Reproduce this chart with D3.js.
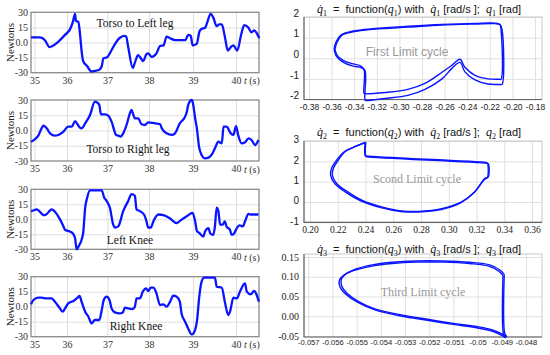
<!DOCTYPE html>
<html>
<head>
<meta charset="utf-8">
<script src="https://cdn.jsdelivr.net/npm/d3@7"></script>
<style>
  body { margin: 0; background: #fff; }
  svg { display: block; }
</style>
</head>
<body>
<svg id="chart" width="550" height="355"></svg>
<script>
const svg = d3.select("#chart");

// ---- left column: joint forces over time, [t (s), Newtons] ----
const timeTicks = [35, 36, 37, 38, 39, 40];
const timeLabels = ["35", "36", "37", "38", "39", "40"];
const forceTicks = [30, 15, 0, -15, -30];
const forceLabels = ["30", "15", "0.0", "-15", "-30"];

const torsoLeft = [
  [34.90, 5], [35.17, 5], [35.33, 2], [35.46, -4.5], [35.58, -3], [35.73, 0.7], [35.94, 7.6],
  [36.07, 12.8], [36.14, 19.8], [36.20, 28.5], [36.22, 21.5], [36.28, 20.5], [36.32, 9.4],
  [36.36, -8], [36.40, -18.4], [36.50, -23.6], [36.61, -28.8], [36.69, -28.1], [36.80, -27],
  [36.86, -23.6], [36.90, -15.6], [36.98, -14.9], [37.14, -4.5], [37.26, 3.1], [37.32, 5.2],
  [37.40, 6.6], [37.45, 5.9], [37.50, -4.5], [37.61, -25.3], [37.66, -20], [37.74, -12.5],
  [37.82, -16.7], [37.86, -18.4], [37.94, -11.5], [37.98, -10.8], [38.06, -14.2], [38.17, -10.8],
  [38.25, -3.5], [38.33, -2.8], [38.40, 5.9], [38.48, 4.2], [38.59, 2.4], [38.74, 2.4],
  [38.83, 2.4], [38.89, 7.6], [38.95, 6.6], [38.99, -2.8], [39.09, -1], [39.15, 11],
  [39.20, 13.5], [39.28, 14.6], [39.33, 19.8], [39.41, 28.5], [39.47, 25], [39.55, 16.3],
  [39.61, 18], [39.67, 18], [39.74, 5.9], [39.81, -8], [39.88, -4.5], [39.94, -2.8],
  [40.03, -8], [40.11, 5.9], [40.19, 17.3], [40.29, 14.6], [40.36, 10], [40.42, 12.1],
  [40.48, 9.4], [40.54, 4.2]
];

const torsoRight = [
  [34.90, -11], [35.02, -8.4], [35.12, -5], [35.22, 2.1], [35.28, 4.8], [35.38, 2.1],
  [35.48, -2.8], [35.63, -5], [35.73, -4.4], [35.89, -1.1], [36.03, 3.8], [36.12, 3.8],
  [36.20, 9.3], [36.26, 6.1], [36.32, 2.8], [36.36, 2.1], [36.45, 7], [36.57, 15.3],
  [36.69, 28.4], [36.74, 27.7], [36.80, 25], [36.84, 15.9], [36.94, 15.9], [37.02, 14.6],
  [37.10, 8.7], [37.21, -4.4], [37.26, -5], [37.32, -6], [37.38, -2.8], [37.46, 5.4],
  [37.54, 16.9], [37.58, 20.2], [37.62, 15.9], [37.66, 12], [37.74, 12], [37.82, 6.1],
  [37.90, 5.4], [37.98, 8], [38.14, 7], [38.25, 6.4], [38.29, 2.1], [38.40, -2.8],
  [38.52, -4.4], [38.59, -2.8], [38.70, 7], [38.82, 13.6], [38.86, 18.5], [38.89, 25],
  [38.97, 30], [38.99, 28.4], [39.05, 12], [39.09, 2.1], [39.14, -15.9], [39.20, -24],
  [39.28, -27.4], [39.36, -26.7], [39.43, -24], [39.51, -17.5], [39.59, -11], [39.67, -12.6],
  [39.71, 3.8], [39.78, 3.8], [39.88, -2.8], [39.94, -4.4], [40.00, 4.4], [40.05, -4.4],
  [40.13, -12.6], [40.21, -11.6], [40.29, -7.7], [40.36, -9.3], [40.44, -14.3], [40.52, -9.3]
];

const leftKnee = [
  [34.90, 8.2], [34.97, 8.8], [35.07, 9.9], [35.17, 7.5], [35.28, 4.1], [35.36, 4.8],
  [35.48, 8.8], [35.53, 9.9], [35.63, 7.5], [35.79, -0.3], [35.89, -7.1], [35.94, -10.5],
  [36.07, -12.2], [36.14, -13.9], [36.20, -19], [36.24, -30], [36.28, -27.5], [36.36, -20.7],
  [36.40, -13.9], [36.45, 11.6], [36.50, 21.8], [36.57, 29], [36.86, 29], [36.92, 21.8],
  [36.98, 18.4], [37.06, 11.6], [37.14, -5.4], [37.18, -8.2], [37.26, -7.1], [37.38, 8.2],
  [37.50, 18.4], [37.58, 25.2], [37.66, 23.5], [37.70, 9.9], [37.78, 8.2], [37.88, 4.8],
  [37.94, -2], [37.98, -8.2], [38.04, -8.2], [38.10, -2], [38.21, 4.8], [38.33, 4.1],
  [38.48, 0.7], [38.63, -3.7], [38.74, -0.3], [38.86, 3.1], [38.99, 6.5], [39.05, -2],
  [39.09, -11.6], [39.15, -13.9], [39.24, -17.3], [39.28, -12.2], [39.36, -8.8], [39.40, -13.9],
  [39.47, -15.6], [39.51, -7.1], [39.55, 11.6], [39.59, 8.2], [39.63, -5.4], [39.69, -5.4],
  [39.74, -2], [39.78, -7.1], [39.86, -10.5], [39.90, -15.6], [39.96, -13.9], [40.02, -8.8],
  [40.08, -6.1], [40.16, -7.1], [40.21, -2], [40.29, 5.4], [40.34, 4.8], [40.52, 4.8]
];

const rightKnee = [
  [34.90, 2.3], [34.97, 6.7], [35.12, 9], [35.22, 9], [35.38, 8.3], [35.53, 8.3],
  [35.63, 5], [35.77, -1], [35.87, -5], [35.94, -1.7], [36.03, 3.3], [36.16, 5.7],
  [36.24, 8.3], [36.31, 10.7], [36.36, 5], [36.45, -5], [36.53, -10], [36.61, -16.7],
  [36.69, -13.3], [36.80, -13.3], [36.86, -3.3], [36.91, 6.7], [36.98, 10], [37.05, 6.7],
  [37.10, -1.7], [37.18, -5.7], [37.29, -6.7], [37.37, -5.7], [37.42, -1], [37.50, -1.7],
  [37.61, -2.3], [37.66, 0], [37.70, 8.3], [37.78, 8.3], [37.85, 15], [37.93, 18.3],
  [37.98, 15.7], [38.04, 19], [38.10, 19], [38.17, 13.3], [38.25, 1.7], [38.33, 2.3],
  [38.40, 0], [38.48, 5], [38.55, 11], [38.63, 10], [38.70, 5], [38.74, -6.7],
  [38.82, -15], [38.89, -21.7], [38.97, -27.7], [39.01, -26.7], [39.09, -15], [39.15, 11.7],
  [39.20, 25], [39.26, 29], [39.51, 29], [39.55, 20], [39.67, 19], [39.74, 5],
  [39.82, -8.3], [39.86, -5], [39.94, 9], [40.02, 8.3], [40.09, 15], [40.21, 23.3],
  [40.25, 15], [40.34, 12.3], [40.42, 15.7], [40.48, 11.7], [40.53, 5]
];

// ---- right column: limit cycles, [q (rad), q-dot (rad/s)], two laps each ----
const cycle1 = [
  [[-0.3570, 0.44], [-0.3552, 0.78], [-0.3508, 1.12], [-0.3419, 1.27], [-0.3216, 1.41],
   [-0.2924, 1.51], [-0.2623, 1.61], [-0.2331, 1.66], [-0.2154, 1.68], [-0.2110, 1.62],
   [-0.2101, 1.40], [-0.2101, -1.02], [-0.2120, -1.02], [-0.2216, -1.0], [-0.2331, -0.83],
   [-0.2420, -0.44], [-0.2464, -0.05], [-0.2535, -0.34], [-0.2623, -0.68], [-0.2774, -1.22],
   [-0.2924, -1.51], [-0.3127, -1.66], [-0.3304, -1.72], [-0.3313, -1.70], [-0.3313, -0.55],
   [-0.3349, -0.36], [-0.3419, -0.26], [-0.3499, -0.10], [-0.3552, 0.15], [-0.3570, 0.44]],
  [[-0.3578, 0.44], [-0.3560, 0.80], [-0.3515, 1.14], [-0.3419, 1.31], [-0.3216, 1.44],
   [-0.2924, 1.55], [-0.2623, 1.64], [-0.2331, 1.69], [-0.2154, 1.70], [-0.2110, 1.64],
   [-0.2092, 1.40], [-0.2092, -1.27], [-0.2110, -1.27], [-0.2216, -1.25], [-0.2331, -1.05],
   [-0.2420, -0.66], [-0.2464, -0.20], [-0.2535, -0.49], [-0.2623, -1.00], [-0.2774, -1.51],
   [-0.2924, -1.80], [-0.3127, -1.95], [-0.3295, -2.05], [-0.3304, -2.03], [-0.3304, -0.60],
   [-0.3340, -0.45], [-0.3410, -0.38], [-0.3495, -0.20], [-0.3560, 0.12], [-0.3578, 0.44]]
];

const cycle2 = [
  [[0.2402, 2.94], [0.2402, 2.24], [0.2412, 2.22], [0.3275, 1.90], [0.3285, 1.88],
   [0.3285, 1.24], [0.3261, 1.16], [0.3189, 0.50], [0.3093, 0.0], [0.2949, -0.33],
   [0.2781, -0.46], [0.2661, -0.44], [0.2517, -0.24], [0.2373, 0.09], [0.2264, 0.53],
   [0.2192, 0.91], [0.2161, 1.32], [0.2168, 1.65], [0.2204, 2.06], [0.2252, 2.47],
   [0.2324, 2.72], [0.2395, 2.92], [0.2402, 2.94]],
  [[0.2396, 2.91], [0.2398, 2.28], [0.2408, 2.26], [0.3268, 1.94], [0.3278, 1.92],
   [0.3278, 1.20], [0.3255, 1.10], [0.3180, 0.45], [0.3085, -0.04], [0.2945, -0.37],
   [0.2781, -0.49], [0.2655, -0.47], [0.2510, -0.28], [0.2365, 0.06], [0.2253, 0.50],
   [0.2180, 0.90], [0.2148, 1.32], [0.2155, 1.65], [0.2192, 2.06], [0.2242, 2.45],
   [0.2318, 2.71], [0.2390, 2.90], [0.2396, 2.91]]
];

const cycle3 = [
  [[-0.04890, 0.106], [-0.04908, 0.117], [-0.04950, 0.130], [-0.05033, 0.1366], [-0.05144, 0.140],
   [-0.05255, 0.140], [-0.05353, 0.1366], [-0.05436, 0.130], [-0.05505, 0.119], [-0.05547, 0.106],
   [-0.05564, 0.092], [-0.05561, 0.075], [-0.05540, 0.058], [-0.05492, 0.037], [-0.05422, 0.018],
   [-0.05311, 0.003], [-0.05214, -0.007], [-0.05102, -0.018], [-0.05005, -0.026], [-0.04936, -0.035],
   [-0.04894, -0.047], [-0.04880, -0.052], [-0.04888, -0.043], [-0.04890, 0.106]],
  [[-0.04895, 0.103], [-0.04912, 0.114], [-0.04955, 0.127], [-0.05033, 0.1335], [-0.05144, 0.137],
   [-0.05255, 0.137], [-0.05353, 0.1335], [-0.05436, 0.127], [-0.05510, 0.116], [-0.05553, 0.104],
   [-0.05572, 0.090], [-0.05568, 0.073], [-0.05545, 0.056], [-0.05495, 0.035], [-0.05422, 0.0155],
   [-0.05311, 0.0], [-0.05214, -0.0095], [-0.05102, -0.0205], [-0.05005, -0.029], [-0.04938, -0.038],
   [-0.04898, -0.049], [-0.04885, -0.054], [-0.04893, -0.045], [-0.04895, 0.103]]
];

const q1Ticks = [-0.38, -0.36, -0.34, -0.32, -0.30, -0.28, -0.26, -0.24, -0.22, -0.20, -0.18];
const q1Labels = ["-0.38", "-0.36", "-0.34", "-0.32", "-0.30", "-0.28", "-0.26", "-0.24", "-0.22", "-0.20", "-0.18"];
const dq1Ticks = [2, 1, 0, -1, -2];
const dq1Labels = ["2", "1", "0", "-1", "-2"];
const q2Ticks = [0.20, 0.22, 0.24, 0.26, 0.28, 0.30, 0.32, 0.34, 0.36];
const q2Labels = ["0.20", "0.22", "0.24", "0.26", "0.28", "0.30", "0.32", "0.34", "0.36"];
const dq2Ticks = [3, 2, 1, 0, -1];
const dq2Labels = ["3", "2", "1", "0", "-1"];
const q3Ticks = [-0.057, -0.056, -0.055, -0.054, -0.053, -0.052, -0.051, -0.050, -0.049, -0.048];
const q3Labels = ["-0.057", "-0.056", "-0.055", "-0.054", "-0.053", "-0.052", "-0.051", "-0.05", "-0.049", "-0.048"];
const dq3Ticks = [0.15, 0.10, 0.05, 0.00, -0.05];
const dq3Labels = ["0.15", "0.10", "0.05", "0.00", "-0.05"];

const SERIF = "'Liberation Serif', 'Times New Roman', serif";
const SANS = "'Liberation Sans', Arial, sans-serif";
const BLUE = "#0a14ff";

// ---------- left column ----------
const leftPanels = [
  { title: "Torso to Left leg", data: torsoLeft, top: 12.3, bottom: 72.7, tx: 135, ty: 27 },
  { title: "Torso to Right leg", data: torsoRight, top: 100, bottom: 161, tx: 128, ty: 153 },
  { title: "Left Knee", data: leftKnee, top: 189.3, bottom: 249.3, tx: 130, ty: 244 },
  { title: "Right Knee", data: rightKnee, top: 276.7, bottom: 336.7, tx: 136, ty: 330 }
];

// the reference's time axis is not evenly spaced, so follow its label positions
const x = d3.scaleLinear()
  .domain([34.9, 35, 36, 37, 38, 39, 40, 40.54])
  .range([31, 34.4, 67, 107.4, 149, 193, 236, 259.3]);

leftPanels.forEach(p => {
  const y = d3.scaleLinear().domain([-30, 30]).range([p.bottom, p.top]);
  const g = svg.append("g");
  const h = p.bottom - p.top;

  const xa = g.append("g").attr("transform", `translate(0,${p.bottom})`)
    .call(d3.axisBottom(x).tickValues(timeTicks).tickFormat((d, i) => timeLabels[i])
      .tickSize(-h).tickPadding(4));
  const ya = g.append("g").attr("transform", `translate(31,0)`)
    .call(d3.axisLeft(y).tickValues(forceTicks).tickFormat((d, i) => forceLabels[i])
      .tickSize(-228).tickPadding(3));
  [xa, ya].forEach(a => {
    a.select(".domain").remove();
    a.selectAll("line").attr("stroke", "#dedede");
    a.selectAll("text").attr("font-family", SERIF).attr("font-size", 10).attr("fill", "#333");
  });
  ya.selectAll(".tick").filter(d => Math.abs(d) === 30).select("line").remove();

  g.append("text")
    .attr("x", 244).attr("y", p.bottom + 11.5)
    .attr("font-family", SERIF).attr("font-size", 10).attr("fill", "#333")
    .html("<tspan font-style='italic'>t</tspan> (s)");

  g.append("rect")
    .attr("x", 31).attr("y", p.top).attr("width", 228).attr("height", h)
    .attr("fill", "none").attr("stroke", "#8a8a8a").attr("stroke-width", 1.3);

  g.append("path")
    .datum(p.data)
    .attr("fill", "none").attr("stroke", BLUE).attr("stroke-width", 2.3)
    .attr("stroke-linejoin", "round")
    .attr("d", d3.line().x(d => x(d[0])).y(d => y(d[1])).curve(d3.curveMonotoneX));

  g.append("text")
    .attr("x", p.tx).attr("y", p.ty).attr("text-anchor", "middle")
    .attr("font-family", SERIF).attr("font-size", 11.5).attr("fill", "#111")
    .text(p.title);

  g.append("text")
    .attr("transform", `translate(14,${(p.top + p.bottom) / 2}) rotate(-90)`)
    .attr("text-anchor", "middle")
    .attr("font-family", SERIF).attr("font-size", 11).attr("fill", "#222")
    .text("Newtons");
});

// ---------- right column ----------
const rightPanels = [
  { n: "1", laps: cycle1, box: [304, 17, 542, 99.5],
    xDom: [-0.38, -0.18], xRng: [309, 535], yDom: [-2, 2], yRng: [99.5, 17],
    xt: q1Ticks, xl: q1Labels, yt: dq1Ticks, yl: dq1Labels,
    xFont: SANS, xSize: 8.5, yFont: SANS, ySize: 10, yShift: -4, xPad: 4,
    note: "First Limit cycle", noteFont: SANS, nx: 407, ny: 56, titleY: 13 },
  { n: "2", laps: cycle2, box: [304, 141, 542, 222.3],
    xDom: [0.20, 0.36], xRng: [310, 532], yDom: [-1, 3], yRng: [222.3, 141],
    xt: q2Ticks, xl: q2Labels, yt: dq2Ticks, yl: dq2Labels,
    xFont: SERIF, xSize: 9.5, yFont: SANS, ySize: 10, yShift: -1.5, xPad: 4,
    note: "Scond Limit cycle", noteFont: SERIF, nx: 417, ny: 183, titleY: 136 },
  { n: "3", laps: cycle3, box: [304, 254, 542, 337],
    xDom: [-0.057, -0.048], xRng: [308.3, 526], yDom: [-0.05, 0.15], yRng: [336, 257],
    xt: q3Ticks, xl: q3Labels, yt: dq3Ticks, yl: dq3Labels,
    xFont: SANS, xSize: 7.6, yFont: SERIF, ySize: 10, yShift: 0, xPad: 3,
    note: "Third Limit cycle", noteFont: SERIF, nx: 423, ny: 296, titleY: 253 }
];

rightPanels.forEach(p => {
  const [x0, y0, x1, y1] = p.box;
  const qx = d3.scaleLinear().domain(p.xDom).range(p.xRng);
  const qy = d3.scaleLinear().domain(p.yDom).range(p.yRng);
  const g = svg.append("g");

  const xa = g.append("g").attr("transform", `translate(0,${y1})`)
    .call(d3.axisBottom(qx).tickValues(p.xt).tickFormat((d, i) => p.xl[i])
      .tickSize(-(y1 - y0)).tickPadding(p.xPad));
  const ya = g.append("g").attr("transform", `translate(${x0},0)`)
    .call(d3.axisLeft(qy).tickValues(p.yt).tickFormat((d, i) => p.yl[i])
      .tickSize(-(x1 - x0)).tickPadding(5));
  xa.select(".domain").remove();
  ya.select(".domain").remove();
  xa.selectAll("line").attr("stroke", "#e0e0e0");
  ya.selectAll("line").attr("stroke", "#e0e0e0");
  xa.selectAll("text").attr("font-family", p.xFont).attr("font-size", p.xSize).attr("fill", "#222");
  ya.selectAll("text").attr("font-family", p.yFont).attr("font-size", p.ySize).attr("fill", "#222")
    .attr("transform", `translate(0,${p.yShift})`);

  g.append("rect").attr("x", x0).attr("y", y0).attr("width", x1 - x0).attr("height", y1 - y0)
    .attr("fill", "none").attr("stroke", "#c8c8c8");
  g.append("path").attr("d", `M${x0},${y0}V${y1}H${x1}`)
    .attr("fill", "none").attr("stroke", "#666").attr("stroke-width", 1.2);

  g.append("text").attr("x", p.nx).attr("y", p.ny).attr("text-anchor", "middle")
    .attr("font-family", p.noteFont).attr("font-size", 12).attr("fill", "#9a9a9a")
    .text(p.note);

  const line = d3.line().x(d => qx(d[0])).y(d => qy(d[1])).curve(d3.curveCatmullRom.alpha(0.5));
  g.selectAll("path.lap").data(p.laps).join("path").attr("class", "lap")
    .attr("fill", "none").attr("stroke", BLUE).attr("stroke-width", 1.4)
    .attr("stroke-linejoin", "round")
    .attr("d", line);

  // title: q-dot_n = function(q_n) with q-dot_n [rad/s ];  q_n [rad]
  const t = g.append("text").attr("x", 419).attr("y", p.titleY).attr("text-anchor", "middle")
    .attr("font-family", SANS).attr("font-size", 11).attr("fill", "#111");
  const q = (dot) => {
    t.append("tspan").attr("font-family", SERIF).attr("font-style", "italic").attr("font-size", 12)
      .text(dot ? "q\u0307" : "q");
    t.append("tspan").attr("font-family", SERIF).attr("font-size", 8).attr("dy", 3).text(p.n);
  };
  const plain = (s) => t.append("tspan").attr("dy", -3).text(s);
  q(true);
  plain("\u00a0 =\u00a0 function(");
  q(false);
  plain(") with\u00a0 ");
  q(true);
  plain(" [rad/s ];\u00a0 ");
  q(false);
  plain(" [rad]");
});
</script>
</body>
</html>
